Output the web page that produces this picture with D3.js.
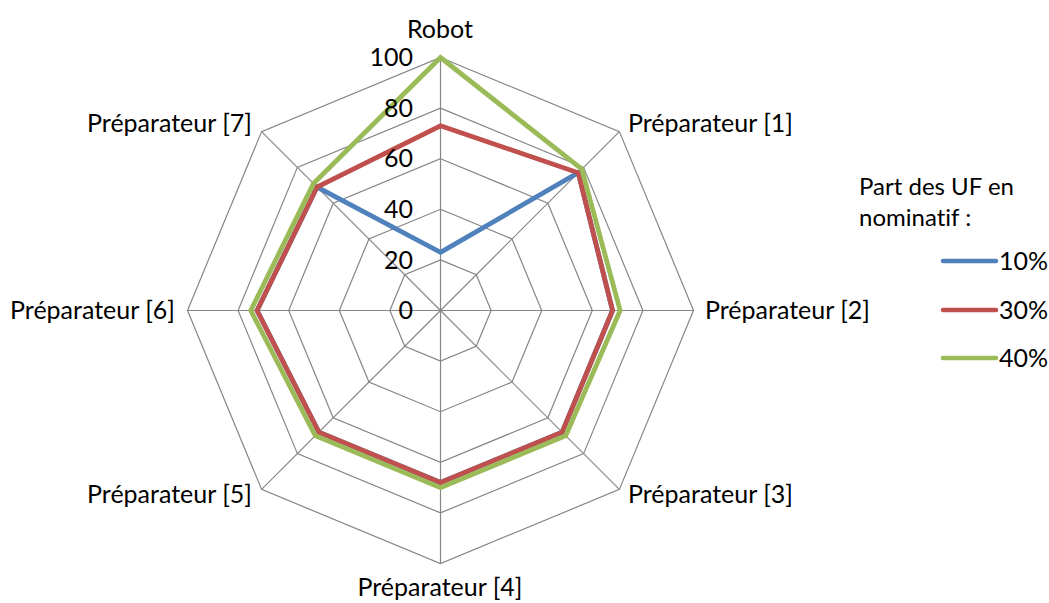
<!DOCTYPE html>
<html>
<head>
<meta charset="utf-8">
<script src="https://cdn.jsdelivr.net/npm/d3@7/dist/d3.min.js"></script>
<style>
  html, body { margin: 0; padding: 0; background: #fff; }
  svg { display: block; }
  text { font-family: Lato, "Noto Sans", sans-serif; fill: #000; font-size: 25px; font-variant-ligatures: none; font-feature-settings: "liga" 0; }
</style>
</head>
<body>
<svg id="chart" width="1049" height="603"></svg>
<script>
// Axes of the radar, clockwise from the top
const categories = ["Robot", "Préparateur [1]", "Préparateur [2]", "Préparateur [3]",
  "Préparateur [4]", "Préparateur [5]", "Préparateur [6]", "Préparateur [7]"];
const seriesNames = ["10%", "30%", "40%"];
const values10 = [23, 77, 68, 68, 68, 68, 72.5, 69];
const values30 = [73, 77, 68, 68, 68, 68, 72.5, 69];
const values40 = [100, 79, 71, 70, 70, 70, 75, 71];
const tickValues = [0, 20, 40, 60, 80, 100];
const legendTitle = ["Part des UF en", "nominatif :"];
const colors = ["#4F81BD", "#C0504D", "#9BBB59"];

const series = [values10, values30, values40].map((v, i) => ({ name: seriesNames[i], values: v, color: colors[i] }));

const svg = d3.select("#chart");
const cx = 440.5, cy = 310.5;
const r = d3.scaleLinear().domain([0, 100]).range([0, 253]);
const angle = d3.scaleLinear().domain([0, categories.length]).range([0, 2 * Math.PI]);

const pt = (i, v) => [cx + r(v) * Math.sin(angle(i)), cy - r(v) * Math.cos(angle(i))];

const g = svg.append("g");

// Grid rings (octagons)
const ringLine = d3.line();
tickValues.filter(t => t > 0).forEach(t => {
  const pts = categories.map((c, i) => pt(i, t));
  g.append("path")
    .attr("d", ringLine(pts) + "Z")
    .attr("fill", "none")
    .attr("stroke", "#868686")
    .attr("stroke-width", 1.2);
});

// Spokes
categories.forEach((c, i) => {
  const [x, y] = pt(i, 100);
  g.append("line")
    .attr("x1", cx).attr("y1", cy).attr("x2", x).attr("y2", y)
    .attr("stroke", "#868686").attr("stroke-width", 1.2);
});

// Series lines
const radarLine = d3.lineRadial()
  .angle((d, i) => angle(i))
  .radius(d => r(d))
  .curve(d3.curveLinearClosed);

series.forEach(s => {
  g.append("path")
    .attr("transform", `translate(${cx},${cy})`)
    .attr("d", radarLine(s.values))
    .attr("fill", "none")
    .attr("stroke", s.color)
    .attr("stroke-width", 4.8)
    .attr("stroke-linejoin", "miter");
});

// Tick labels on the vertical axis
g.selectAll(".tick").data(tickValues).enter().append("text")
  .attr("class", "tick")
  .attr("x", 413)
  .attr("y", d => cy - r(d))
  .attr("dy", "0.35em")
  .attr("text-anchor", "end")
  .text(d => d);

// Category labels
const labelPos = [
  { x: 440, y: 29, anchor: "middle" },
  { x: 628, y: 123, anchor: "start" },
  { x: 705, y: 310, anchor: "start" },
  { x: 628, y: 494, anchor: "start" },
  { x: 440, y: 587, anchor: "middle" },
  { x: 252, y: 494, anchor: "end" },
  { x: 175, y: 310, anchor: "end" },
  { x: 252, y: 123, anchor: "end" }
];
categories.forEach((c, i) => {
  g.append("text")
    .attr("x", labelPos[i].x)
    .attr("y", labelPos[i].y)
    .attr("dy", "0.35em")
    .attr("text-anchor", labelPos[i].anchor)
    .text(c);
});

// Legend
const legend = svg.append("g");
legendTitle.forEach((t, i) => {
  legend.append("text")
    .attr("x", 859).attr("y", 187 + i * 31)
    .attr("dy", "0.35em")
    .style("font-size", "24px")
    .text(t);
});
const legendY = [261, 310, 358];
series.forEach((s, i) => {
  legend.append("line")
    .attr("x1", 943).attr("x2", 996)
    .attr("y1", legendY[i]).attr("y2", legendY[i])
    .attr("stroke", s.color).attr("stroke-width", 4.5)
    .attr("stroke-linecap", "round");
  legend.append("text")
    .attr("x", 999).attr("y", legendY[i])
    .attr("dy", "0.35em")
    .text(s.name);
});
</script>
</body>
</html>
